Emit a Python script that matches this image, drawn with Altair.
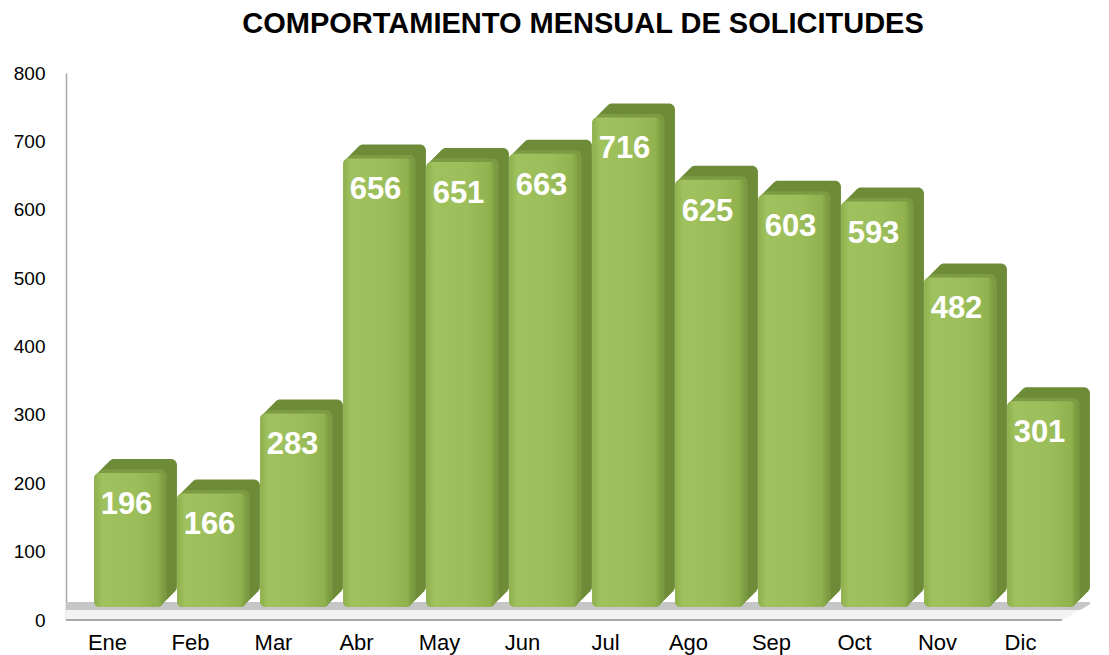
import altair as alt
import pandas as pd

meses = ["Ene", "Feb", "Mar", "Abr", "May", "Jun", "Jul", "Ago", "Sep", "Oct", "Nov", "Dic"]
solicitudes = [196, 166, 283, 656, 651, 663, 716, 625, 603, 593, 482, 301]
y_ticks = [0, 100, 200, 300, 400, 500, 600, 700, 800]
titulo = "COMPORTAMIENTO MENSUAL DE SOLICITUDES"

df = pd.DataFrame({"mes": meses, "valor": solicitudes})

FONT = "Liberation Sans"
W, H = 996, 547
FRONT_DX, FRONT_DY = 21, -13
DEPTH_STEPS = 8
STEP_X, STEP_Y = 1.75, -1.75

x_scale = alt.Scale(domain=meses, paddingInner=0.17, paddingOuter=0.085)
y_scale = alt.Scale(domain=[0, 800], nice=False)

base = alt.Chart(df)

# floor: parallelogram built from shifted rules at value 0
floor_layers = []
N_FLOOR = 17
for k in range(0, N_FLOOR):
    col = "#C6C6C6" if k >= 11 else "#F3F3F3"
    floor_layers.append(
        base.mark_rule(color=col, strokeWidth=2.2,
                       xOffset=k * 1.7, yOffset=-k * 1.05).encode(y=alt.Y(datum=0, scale=y_scale))
    )
floor_front = base.mark_rule(color="#A8A8A8", strokeWidth=1.8).encode(y=alt.Y(datum=0, scale=y_scale))

enc = dict(
    x=alt.X("mes:N", scale=x_scale, sort=meses,
            axis=alt.Axis(title=None, labelAngle=0, labelFont=FONT, labelFontSize=22,
                          labelColor="#000000", labelPadding=12, ticks=False, domain=False)),
    y=alt.Y("valor:Q", scale=y_scale,
            axis=alt.Axis(title=None, values=y_ticks, labelFont=FONT, labelFontSize=19,
                          labelColor="#000000", labelPadding=21, ticks=False, grid=False,
                          domainColor="#A6A6A6", domainWidth=1.5)),
    y2=alt.datum(0),
)

# extruded depth (side + top faces)
depth_layers = []
for k in range(DEPTH_STEPS, 0, -1):
    shade = "#6E8C38" if k > 2 else "#7C9B43"
    off_y = FRONT_DY + k * STEP_Y
    depth_layers.append(
        base.mark_bar(color=shade, cornerRadius=6,
                      xOffset=FRONT_DX + k * STEP_X,
                      yOffset=off_y, y2Offset=off_y).encode(**enc)
    )

front_fill = alt.Gradient(
    gradient="linear", x1=0, x2=1, y1=0, y2=0,
    stops=[alt.GradientStop(offset=0, color="#8DAF4C"),
           alt.GradientStop(offset=0.12, color="#A0C25E"),
           alt.GradientStop(offset=0.6, color="#9CBE5A"),
           alt.GradientStop(offset=0.92, color="#91B34F"),
           alt.GradientStop(offset=1, color="#7E9E42")],
)
front = base.mark_bar(color=front_fill, cornerRadius=5,
                      xOffset=FRONT_DX, yOffset=FRONT_DY, y2Offset=FRONT_DY).encode(**enc)

labels = base.mark_text(font=FONT, fontSize=31, fontWeight="bold", color="white",
                        baseline="top", align="center", dy=4,
                        xOffset=FRONT_DX - 2).encode(
    x=alt.X("mes:N", scale=x_scale, sort=meses),
    y=alt.Y("valor:Q", scale=y_scale),
    text=alt.Text("valor:Q"),
)

chart = alt.layer(*floor_layers, floor_front, *depth_layers, front, labels).properties(
    width=W, height=H,
    title=alt.TitleParams(titulo, font=FONT, fontSize=29, fontWeight="bold", color="#000000",
                          anchor="middle", dx=19, offset=25),
    autosize=alt.AutoSizeParams(type="none"),
    padding={"left": 58, "top": 65, "right": 35, "bottom": 37},
    background="white",
).configure_view(stroke=None)

chart.save("out.html", embed_options={"renderer": "svg", "actions": False})
